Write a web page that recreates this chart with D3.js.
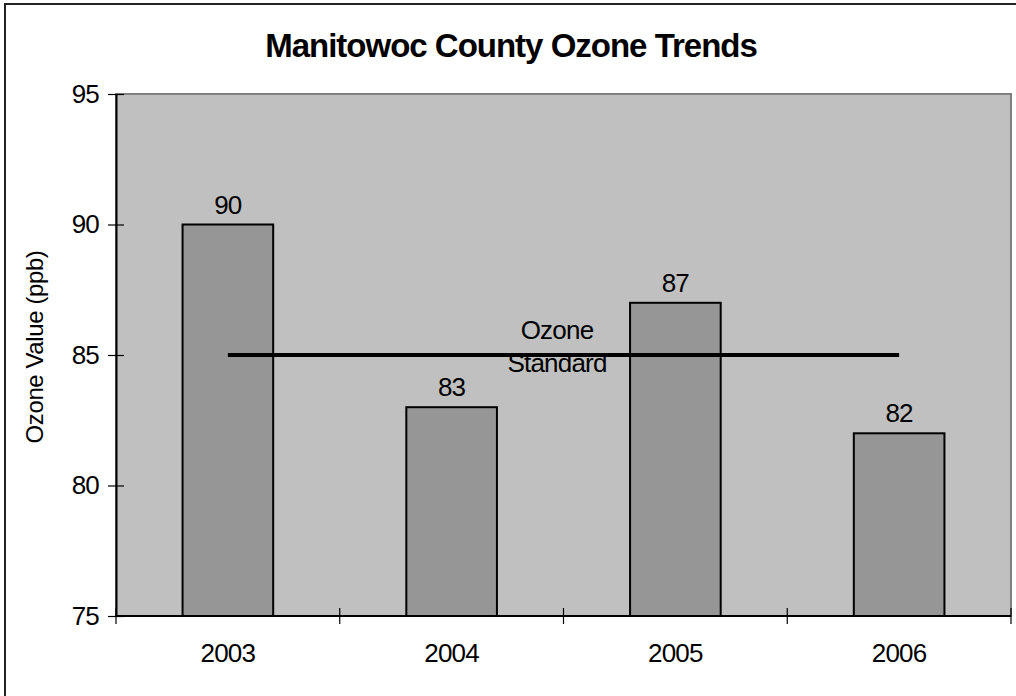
<!DOCTYPE html>
<html>
<head>
<meta charset="utf-8">
<script src="https://cdn.jsdelivr.net/npm/d3@7"></script>
<style>
  html, body { margin: 0; padding: 0; background: #fff; }
  svg { display: block; font-family: Arial, "Liberation Sans", sans-serif; }
</style>
</head>
<body>
<svg id="chart" width="1016" height="696"></svg>
<script>
// Annual ozone design values, Manitowoc County
const years = ["2003", "2004", "2005", "2006"];
const ozoneValues = [90, 83, 87, 82];
const standardValue = 85;
const standardLabel = ["Ozone", "Standard"];
const yTicks = [75, 80, 85, 90, 95];
const titleText = "Manitowoc County Ozone Trends";
const yAxisTitle = "Ozone Value (ppb)";

const svg = d3.select("#chart");
const plot = { left: 116, top: 94, right: 1011, bottom: 616 };
const FONT = 26;

const x = d3.scaleBand().domain(years).range([plot.left, plot.right]).paddingInner(0).paddingOuter(0);
const y = d3.scaleLinear().domain([75, 95]).range([plot.bottom, plot.top]);

// outer chart frame (runs off the right and bottom edges)
svg.append("rect")
  .attr("x", 5).attr("y", 4).attr("width", 1040).attr("height", 720)
  .attr("fill", "none").attr("stroke", "#222").attr("stroke-width", 2);

// title
svg.append("text")
  .attr("x", 511).attr("y", 57)
  .attr("text-anchor", "middle")
  .attr("font-weight", "bold").attr("font-size", 33)
  .attr("letter-spacing", -1)
  .attr("fill", "#000")
  .text(titleText);

// plot background
svg.append("rect")
  .attr("x", plot.left).attr("y", plot.top)
  .attr("width", plot.right - plot.left).attr("height", plot.bottom - plot.top)
  .attr("fill", "#c0c0c0").attr("stroke", "#808080").attr("stroke-width", 2);

// bars
const barW = x.bandwidth() * 0.405;
const rows = years.map((yr, i) => ({ yr, v: ozoneValues[i] }));
svg.append("g").selectAll("rect")
  .data(rows)
  .join("rect")
  .attr("x", d => x(d.yr) + x.bandwidth() / 2 - barW / 2)
  .attr("y", d => y(d.v))
  .attr("width", barW)
  .attr("height", d => y(75) - y(d.v))
  .attr("fill", "#969696").attr("stroke", "#000").attr("stroke-width", 2);

// value labels
svg.append("g").selectAll("text")
  .data(rows)
  .join("text")
  .attr("x", d => x(d.yr) + x.bandwidth() / 2)
  .attr("y", d => y(d.v) - 11)
  .attr("text-anchor", "middle").attr("font-size", FONT)
  .attr("letter-spacing", -0.8)
  .attr("fill", "#000")
  .text(d => d.v);

// ozone standard line, from first to last category centre
const line = d3.line().x(d => x(d) + x.bandwidth() / 2).y(() => y(standardValue));
svg.append("path")
  .datum(years)
  .attr("d", line)
  .attr("fill", "none").attr("stroke", "#000").attr("stroke-width", 4);

// standard label
const lbl = svg.append("text")
  .attr("text-anchor", "middle").attr("font-size", FONT)
  .attr("letter-spacing", -0.8).attr("fill", "#000");
standardLabel.forEach((t, i) => {
  lbl.append("tspan").attr("x", 557).attr("y", 339 + i * 33).text(t);
});

// y axis (cross ticks)
const yAxis = d3.axisLeft(y).tickValues(yTicks).tickSize(0).tickPadding(17);
const gy = svg.append("g").attr("transform", `translate(${plot.left},0)`).call(yAxis);
gy.select(".domain").attr("stroke", "#000").attr("stroke-width", 2);
gy.selectAll(".tick text")
  .attr("font-size", FONT).attr("letter-spacing", -0.8)
  .attr("font-family", "Arial, 'Liberation Sans', sans-serif").attr("fill", "#000");
gy.selectAll(".tick").append("line")
  .attr("x1", -8).attr("x2", 8).attr("stroke", "#000").attr("stroke-width", 1.2);

// x axis (cross ticks at category boundaries)
const gx = svg.append("g").attr("transform", `translate(0,${plot.bottom})`);
gx.append("line")
  .attr("x1", plot.left).attr("x2", plot.right)
  .attr("stroke", "#000").attr("stroke-width", 2);
const bounds = years.map(d => x(d)).concat([x(years[years.length - 1]) + x.bandwidth()]);
gx.selectAll("line.tk").data(bounds).join("line")
  .attr("class", "tk")
  .attr("x1", d => d).attr("x2", d => d)
  .attr("y1", -8).attr("y2", 8)
  .attr("stroke", "#000").attr("stroke-width", 1.2);
gx.selectAll("text").data(years).join("text")
  .attr("x", d => x(d) + x.bandwidth() / 2)
  .attr("y", 46)
  .attr("text-anchor", "middle").attr("font-size", FONT)
  .attr("letter-spacing", -0.8).attr("fill", "#000")
  .text(d => d);

// y axis title
svg.append("text")
  .attr("transform", "translate(43,347) rotate(-90)")
  .attr("text-anchor", "middle").attr("font-size", 24)
  .attr("letter-spacing", -0.4).attr("fill", "#000")
  .text(yAxisTitle);
</script>
</body>
</html>
